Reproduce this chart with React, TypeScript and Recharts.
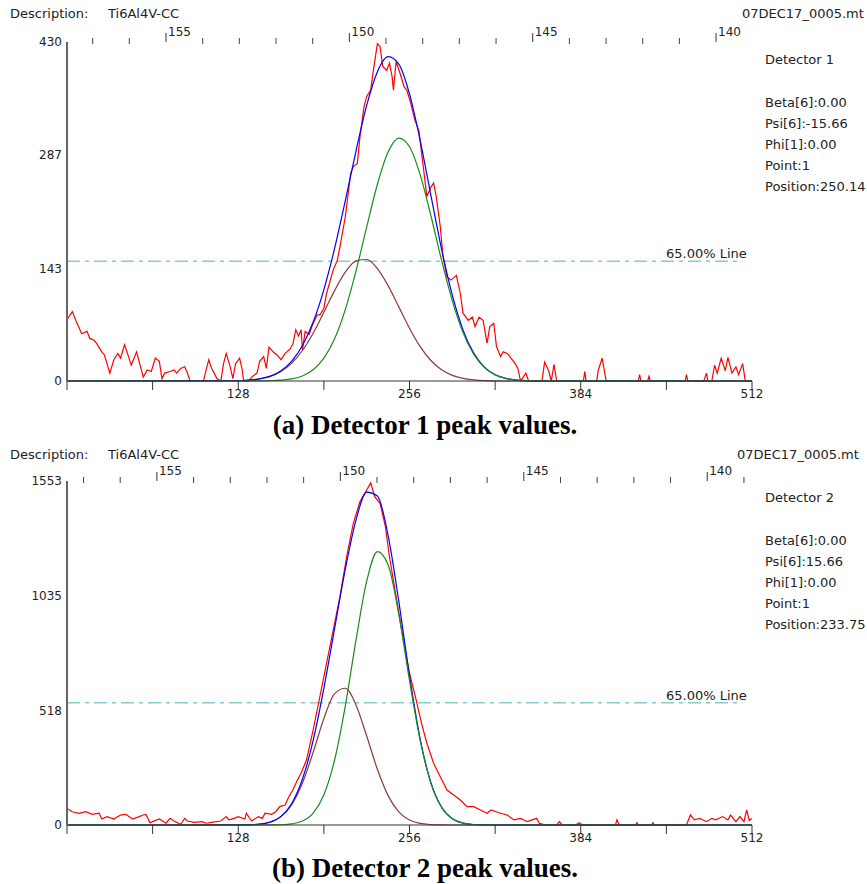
import React from "react";
import { LineChart, Line, XAxis, YAxis, ReferenceLine } from "recharts";

const FONT = "'DejaVu Sans', Verdana, sans-serif";

// measured counts, detector 1: [channel, counts]
const rawA: [number, number][] = [
  [0, 78], [4, 88], [7, 75], [11, 60], [15, 63], [17, 54], [20, 52], [22, 48], [26, 37], [28, 33],
  [32, 10], [35, 27], [38, 35], [40, 29], [43, 46], [46, 31], [48, 20], [52, 37], [55, 18], [57, 5],
  [60, 14], [63, 12], [66, 29], [69, 25], [71, 3], [73, 10], [77, 12], [80, 14], [82, 10], [85, 16],
  [88, 18], [90, 10], [92, 0], [102, 0], [104, 14], [106, 27], [108, 16], [110, 10], [112, 3], [115, 0],
  [117, 22], [119, 35], [122, 18], [124, 3], [126, 22], [129, 29], [131, 14], [132, 0], [136, 0], [138, 5],
  [142, 10], [144, 25], [147, 31], [149, 16], [151, 43], [154, 37], [157, 33], [160, 27], [163, 35], [167, 41],
  [169, 48], [171, 65], [173, 57], [175, 65], [176, 39], [178, 63], [181, 59], [183, 69], [187, 84], [189, 84],
  [192, 92], [194, 111], [199, 141], [202, 153], [204, 170], [208, 208], [212, 263], [214, 272], [217, 276], [219, 310],
  [222, 348], [224, 361], [227, 369], [229, 394], [232, 428], [234, 424], [236, 399], [239, 394], [241, 403], [243, 386],
  [244, 369], [246, 405], [249, 390], [252, 373], [254, 369], [257, 352], [260, 331], [263, 318], [266, 276], [269, 234],
  [272, 246], [274, 251], [276, 234], [279, 196], [281, 158], [284, 132], [287, 128], [291, 134], [294, 111], [296, 86],
  [300, 77], [303, 81], [305, 69], [308, 81], [311, 77], [314, 48], [316, 69], [319, 73], [321, 44], [324, 31],
  [326, 37], [329, 35], [331, 31], [335, 22], [337, 16], [339, 0], [343, 10], [345, 0], [355, 0], [357, 24],
  [360, 13], [362, 0], [364, 21], [366, 0], [386, 0], [387, 12], [388, 0], [396, 0], [397, 13], [400, 29],
  [403, 0], [427, 0], [428, 8], [429, 0], [434, 0], [435, 6], [436, 0], [462, 0], [463, 8], [464, 0],
  [476, 0], [478, 10], [479, 0], [482, 0], [484, 20], [486, 10], [489, 29], [492, 13], [494, 30], [497, 10],
  [500, 18], [502, 8], [505, 22], [507, 0], [512, 0],
];

// measured counts, detector 2
const rawB: [number, number][] = [
  [0, 75], [4, 60], [9, 53], [14, 60], [19, 48], [24, 53], [26, 27], [30, 38], [35, 27], [40, 45],
  [44, 48], [49, 27], [54, 38], [57, 45], [59, 48], [62, 10], [64, 15], [69, 27], [74, 8], [77, 30],
  [80, 18], [85, 3], [88, 30], [90, 18], [95, 12], [101, 15], [104, 8], [108, 12], [115, 18], [119, 38],
  [121, 23], [125, 30], [128, 38], [133, 27], [134, 53], [138, 18], [143, 38], [146, 30], [148, 53], [153, 48],
  [156, 60], [159, 83], [163, 90], [166, 130], [169, 160], [172, 200], [175, 235], [179, 293], [184, 429], [189, 579],
  [194, 730], [199, 880], [204, 1031], [209, 1211], [214, 1362], [219, 1460], [224, 1512], [227, 1545], [230, 1482], [234, 1452],
  [238, 1347], [241, 1211], [246, 1031], [251, 850], [256, 685], [261, 564], [265, 459], [269, 369], [274, 279], [279, 218],
  [284, 158], [289, 135], [294, 113], [299, 83], [304, 83], [309, 68], [314, 53], [317, 68], [324, 53], [329, 45],
  [334, 23], [339, 30], [344, 15], [351, 30], [353, 8], [358, 0], [366, 0], [368, 15], [370, 0], [380, 0],
  [383, 10], [385, 0], [410, 0], [411, 23], [413, 0], [425, 0], [426, 10], [427, 0], [437, 0], [438, 10],
  [439, 0], [463, 0], [466, 45], [469, 23], [473, 30], [478, 15], [482, 30], [485, 23], [490, 38], [494, 23],
  [496, 45], [500, 15], [503, 38], [506, 15], [508, 68], [510, 20], [512, 30],
];

// channels where the fitted peaks were read
const fitCh = [
  0, 128, 136, 144, 152, 160, 168, 176, 184, 192, 200, 208, 216, 224, 232, 240,
  248, 256, 264, 272, 280, 288, 296, 304, 312, 320, 328, 336, 344, 352, 512,
];

const peak1A = [0, 0.4, 1.1, 2.7, 5.9, 12.1, 22.6, 38.7, 60.6, 87.1, 114.6, 138.0, 152.3, 154.1, 142.6, 121.0,
  94.0, 66.9, 43.6, 26.0, 14.2, 7.1, 3.3, 1.4, 0.5, 0.2, 0, 0, 0, 0, 0];
const peak2A = [0, 0, 0, 0.1, 0.3, 1.0, 2.6, 6.4, 14.2, 28.9, 53.5, 90.6, 139.4, 195.4, 249.6, 290.4,
  308, 297.2, 261.4, 209.6, 152.9, 101.7, 61.6, 34.0, 17.1, 7.8, 3.3, 1.2, 0.4, 0.1, 0];
const totalA = [0, 0.4, 1.1, 2.8, 6.2, 13.1, 25.2, 45.1, 74.8, 116.0, 168.1, 228.6, 291.7, 349.5, 392.2, 411.4,
  402.0, 364.1, 305.0, 235.6, 167.1, 108.8, 64.9, 35.4, 17.6, 8.0, 3.3, 1.2, 0.4, 0.1, 0];

const peak1B = [0, 0.2, 0.9, 3.8, 13.1, 37.8, 92.2, 189.4, 328.5, 480.6, 593.0, 617.3, 542.1, 401.8, 251.5, 132.6,
  59.0, 22.2, 7.0, 1.9, 0.4, 0, 0, 0, 0, 0, 0, 0, 0, 0, 0];
const peak2B = [0, 0, 0, 0, 0.3, 1.2, 5.1, 18.0, 53.7, 136.2, 293.4, 536.7, 834.4, 1100.6, 1234.0, 1174.9,
  950.8, 652.4, 380.8, 188.7, 79.5, 28.4, 8.6, 2.2, 0.5, 0.1, 0, 0, 0, 0, 0];
const totalB = [0, 0.2, 0.9, 3.8, 13.4, 39.0, 97.3, 207.4, 382.2, 616.8, 886.4, 1154.0, 1376.5, 1502.4, 1485.5, 1307.5,
  1009.8, 674.6, 387.8, 190.6, 79.9, 28.4, 8.6, 2.2, 0.5, 0.1, 0, 0, 0, 0, 0];

const yTicksA = [0, 143, 287, 430];
const yTicksB = [0, 518, 1035, 1553];
const chTicks = [0, 64, 128, 192, 256, 320, 384, 448, 512];
const chLabels = [128, 256, 384, 512];

// 2-theta scale along the top (degrees at channel 0 and 512)
const degDomainA: [number, number] = [157.7, 139.02];
const degDomainB: [number, number] = [157.45, 138.78];
const degTicksA = [140, 141, 142, 143, 144, 145, 146, 147, 148, 149, 150, 151, 152, 153, 154, 155, 156, 157];
const degTicksB = [139, 140, 141, 142, 143, 144, 145, 146, 147, 148, 149, 150, 151, 152, 153, 154, 155, 156, 157];
const degLabels = [140, 145, 150, 155];

const infoA = ["Beta[6]:0.00", "Psi[6]:-15.66", "Phi[1]:0.00", "Point:1", "Position:250.14"];
const infoB = ["Beta[6]:0.00", "Psi[6]:15.66", "Phi[1]:0.00", "Point:1", "Position:233.75"];

const toRows = (pairs: [number, number][]) => pairs.map(([ch, v]) => ({ ch, v }));
const fitRows = (vals: number[]) => fitCh.map((ch, i) => ({ ch, v: vals[i] }));

const TopTick = (props: any) => {
  const { x, payload, plotTop } = props;
  const major = degLabels.includes(payload.value);
  if (major) {
    return (
      <g>
        <line x1={x} x2={x} y1={plotTop - 9} y2={plotTop} stroke="#333" strokeWidth={1} />
        <text x={x + 2} y={plotTop - 6} fontSize={12} fontFamily={FONT} fill="#222">
          {payload.value}
        </text>
      </g>
    );
  }
  return <line x1={x} x2={x} y1={plotTop - 4} y2={plotTop + 2} stroke="#444" strokeWidth={1} />;
};

type PanelProps = {
  top: number;
  height: number;
  marginTop: number;
  raw: [number, number][];
  p1: number[];
  p2: number[];
  total: number[];
  yMax: number;
  yTicks: number[];
  threshold: number;
  degDomain: [number, number];
  degTicks: number[];
};

function Panel({ top, height, marginTop, raw, p1, p2, total, yMax, yTicks, threshold, degDomain, degTicks }: PanelProps) {
  const plotTop = marginTop + 20;
  // empty series that only carries the degree range, so the top axis gets a domain
  const degRows = degDomain.map((deg) => ({ deg }));
  return (
    <div style={{ position: "absolute", left: 0, top, width: 867, height }}>
      <LineChart width={867} height={height} margin={{ top: marginTop, right: 115, bottom: 29, left: 7 }}>
        <XAxis
          xAxisId="deg"
          dataKey="deg"
          orientation="top"
          type="number"
          domain={[Math.min(...degDomain), Math.max(...degDomain)]}
          reversed
          allowDataOverflow
          ticks={degTicks}
          interval={0}
          height={20}
          axisLine={false}
          tickLine={false}
          tick={(p: any) => <TopTick {...p} plotTop={plotTop} />}
        />
        <XAxis
          dataKey="ch"
          type="number"
          domain={[0, 512]}
          ticks={chTicks}
          interval={0}
          height={30}
          tickSize={9}
          tickMargin={-1}
          stroke="#333"
          tickFormatter={(v: number) => (chLabels.includes(v) ? String(v) : "")}
          tick={{ fontSize: 12, fontFamily: FONT, fill: "#222" }}
        />
        <YAxis
          type="number"
          domain={[0, yMax]}
          ticks={yTicks}
          interval={0}
          width={60}
          tickLine={false}
          tickSize={3}
          tickMargin={2}
          axisLine={{ stroke: "#666", strokeWidth: 2 }}
          tick={{ fontSize: 12, fontFamily: FONT, fill: "#222" }}
        />
        <ReferenceLine
          segment={[{ x: 0, y: threshold }, { x: 505, y: threshold }]}
          stroke="#80d0d0"
          strokeWidth={1.5}
          strokeDasharray="13 5 4 5"
        />
        <Line xAxisId="deg" data={degRows} dataKey="none" stroke="none" dot={false} legendType="none" isAnimationActive={false} />
        <Line data={toRows(raw)} dataKey="v" type="linear" stroke="#ff0000" strokeWidth={1.2} dot={false} isAnimationActive={false} />
        <Line data={fitRows(p1)} dataKey="v" type="monotone" stroke="#8b3a3a" strokeWidth={1.2} dot={false} isAnimationActive={false} />
        <Line data={fitRows(total)} dataKey="v" type="monotone" stroke="#0000ff" strokeWidth={1.2} dot={false} isAnimationActive={false} />
        <Line data={fitRows(p2)} dataKey="v" type="monotone" stroke="#1a8c1a" strokeWidth={1.2} dot={false} isAnimationActive={false} />
      </LineChart>
    </div>
  );
}

const txt: React.CSSProperties = {
  position: "absolute",
  fontFamily: FONT,
  fontSize: 13,
  lineHeight: "16px",
  color: "#222",
  whiteSpace: "nowrap",
};

function Header({ top, fileLeft }: { top: number; fileLeft: number }) {
  return (
    <>
      <div style={{ ...txt, left: 10, top }}>Description:</div>
      <div style={{ ...txt, left: 108, top }}>Ti6Al4V-CC</div>
      <div style={{ ...txt, left: fileLeft, top }}>07DEC17_0005.mt</div>
    </>
  );
}

function Info({ top, title, lines }: { top: number; title: string; lines: string[] }) {
  return (
    <div style={{ ...txt, left: 765, top }}>
      <div>{title}</div>
      <div style={{ marginTop: 24, lineHeight: "21px" }}>
        {lines.map((l) => (
          <div key={l}>{l}</div>
        ))}
      </div>
    </div>
  );
}

const caption: React.CSSProperties = {
  position: "absolute",
  left: 0,
  width: 850,
  textAlign: "center",
  fontFamily: "'Liberation Serif', 'Times New Roman', serif",
  fontWeight: "bold",
  fontSize: 27,
  lineHeight: "30px",
  color: "#000",
};

export default function App() {
  return (
    <div style={{ position: "absolute", left: 0, top: 0, width: 867, height: 884, overflow: "hidden", background: "#fff" }}>
      <Panel
        top={0}
        height={440}
        marginTop={22}
        raw={rawA}
        p1={peak1A}
        p2={peak2A}
        total={totalA}
        yMax={430}
        yTicks={yTicksA}
        threshold={152}
        degDomain={degDomainA}
        degTicks={degTicksA}
      />
      <Panel
        top={440}
        height={444}
        marginTop={21}
        raw={rawB}
        p1={peak1B}
        p2={peak2B}
        total={totalB}
        yMax={1553}
        yTicks={yTicksB}
        threshold={552}
        degDomain={degDomainB}
        degTicks={degTicksB}
      />
      <Header top={6} fileLeft={742} />
      <Header top={447} fileLeft={737} />
      <Info top={52} title="Detector 1" lines={infoA} />
      <Info top={490} title="Detector 2" lines={infoB} />
      <div style={{ ...txt, left: 666, top: 246 }}>65.00% Line</div>
      <div style={{ ...txt, left: 666, top: 688 }}>65.00% Line</div>
      <div style={{ ...caption, top: 410 }}>(a) Detector 1 peak values.</div>
      <div style={{ ...caption, top: 853 }}>(b) Detector 2 peak values.</div>
    </div>
  );
}
